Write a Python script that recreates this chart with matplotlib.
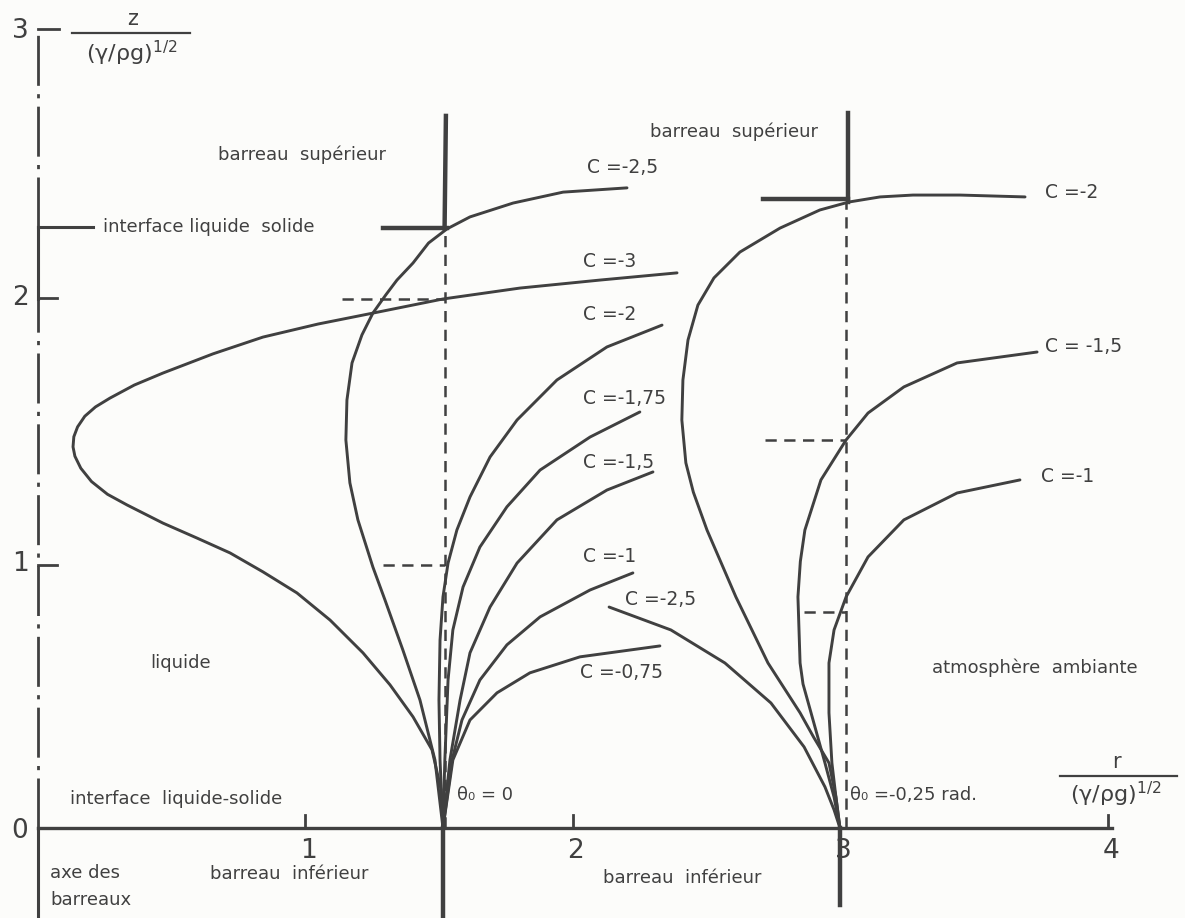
import matplotlib.pyplot as plt

# profils r(z), famille theta0 = 0 (pied en r = 1,514)
g_c3 = [(1.514, 0.000), (1.507, 0.143), (1.473, 0.293), (1.402, 0.417), (1.316, 0.537),
        (1.215, 0.657), (1.092, 0.780), (0.968, 0.882), (0.841, 0.961), (0.718, 1.032),
        (0.594, 1.088), (0.467, 1.144), (0.333, 1.212), (0.260, 1.252), (0.200, 1.300),
        (0.160, 1.350), (0.138, 1.395), (0.131, 1.430), (0.134, 1.468), (0.148, 1.505),
        (0.175, 1.545), (0.215, 1.580), (0.269, 1.613), (0.360, 1.662), (0.467, 1.707),
        (0.654, 1.779), (0.841, 1.842), (1.047, 1.891), (1.252, 1.932), (1.514, 1.985),
        (1.802, 2.026), (2.101, 2.056), (2.389, 2.083)]
g_c25 = [(1.514, 0.000), (1.484, 0.255), (1.428, 0.480), (1.364, 0.668), (1.297, 0.856),
         (1.252, 0.979), (1.196, 1.156), (1.166, 1.295), (1.151, 1.456), (1.155, 1.606),
         (1.174, 1.745), (1.211, 1.850), (1.252, 1.932), (1.300, 2.000), (1.342, 2.056),
         (1.402, 2.120), (1.460, 2.195), (1.529, 2.248), (1.615, 2.293), (1.776, 2.345),
         (1.963, 2.386), (2.202, 2.402)]
g_c2 = [(1.514, 0.000), (1.503, 0.255), (1.499, 0.480), (1.503, 0.705), (1.514, 0.867),
        (1.533, 0.994), (1.566, 1.118), (1.615, 1.242), (1.690, 1.392), (1.791, 1.531),
        (1.940, 1.681), (2.127, 1.805), (2.333, 1.887)]
g_c175 = [(1.514, 0.000), (1.521, 0.255), (1.533, 0.555), (1.551, 0.743), (1.589, 0.904),
          (1.652, 1.054), (1.753, 1.205), (1.877, 1.343), (2.064, 1.467), (2.250, 1.561)]
g_c15 = [(1.514, 0.000), (1.540, 0.255), (1.578, 0.480), (1.615, 0.657), (1.690, 0.829),
         (1.791, 0.994), (1.940, 1.156), (2.127, 1.268), (2.299, 1.336)]
g_c1 = [(1.514, 0.000), (1.548, 0.255), (1.585, 0.405), (1.652, 0.555), (1.753, 0.687),
        (1.877, 0.792), (2.064, 0.893), (2.224, 0.957)]
g_c075 = [(1.514, 0.000), (1.551, 0.255), (1.615, 0.405), (1.716, 0.507), (1.839, 0.582),
          (2.026, 0.642), (2.325, 0.683)]

# famille theta0 = -0,25 rad (pied en r = 3)
d_c2 = [(2.998, 0.000), (2.983, 0.116), (2.957, 0.244), (2.900, 0.340), (2.849, 0.432),
        (2.729, 0.619), (2.609, 0.867), (2.501, 1.118), (2.450, 1.260), (2.422, 1.370),
        (2.407, 1.531), (2.411, 1.681), (2.430, 1.831), (2.467, 1.962), (2.527, 2.064),
        (2.624, 2.161), (2.774, 2.251), (2.923, 2.319), (3.032, 2.349), (3.148, 2.368),
        (3.271, 2.375), (3.447, 2.375), (3.690, 2.368)]
d_c15 = [(2.998, 0.000), (2.976, 0.116), (2.942, 0.244), (2.890, 0.432), (2.860, 0.540),
         (2.849, 0.619), (2.841, 0.867), (2.850, 1.000), (2.867, 1.118), (2.927, 1.306),
         (3.021, 1.456), (3.103, 1.557), (3.237, 1.655), (3.436, 1.745), (3.735, 1.786)]
d_c1 = [(2.998, 0.000), (2.983, 0.116), (2.968, 0.244), (2.957, 0.432), (2.957, 0.619),
        (2.976, 0.743), (3.021, 0.867), (3.103, 1.017), (3.237, 1.156), (3.436, 1.257),
        (3.671, 1.306)]
d_c25 = [(2.135, 0.829), (2.366, 0.743), (2.568, 0.619), (2.740, 0.469), (2.864, 0.304),
         (2.942, 0.154), (2.976, 0.068), (2.998, 0.000)]

courbes = [g_c3, g_c25, g_c2, g_c175, g_c15, g_c1, g_c075, d_c2, d_c15, d_c1, d_c25]

# etiquettes des courbes (texte, r, z)
etiquettes = [("C =-2,5", 2.052, 2.477), ("C =-3", 2.037, 2.124), ("C =-2", 2.037, 1.925),
              ("C =-1,75", 2.037, 1.613), ("C =-1,5", 2.037, 1.373), ("C =-1", 2.037, 1.017),
              ("C =-2,5", 2.194, 0.856), ("C =-0,75", 2.026, 0.582),
              ("C =-2", 3.764, 2.383), ("C = -1,5", 3.764, 1.805), ("C =-1", 3.750, 1.317)]

xticks = [1, 2, 3, 4]
yticks = [0, 1, 2, 3]

encre = '#404040'
fig = plt.figure(figsize=(11.85, 9.18), dpi=100, facecolor='#fcfcfa')
ax = fig.add_axes([0, 0, 1, 1])
ax.set_xlim(-0.142, 4.288)
ax.set_ylim(-0.338, 3.107)
ax.axis('off')

for c in courbes:
    r, z = zip(*c)
    ax.plot(r, z, color=encre, lw=2.1, solid_capstyle='round', solid_joinstyle='round')

# axe des barreaux (trait mixte) et axe r
dashdot = (0, (18, 3, 1.5, 3))
ax.plot([0, 0], [0, 1.985], color=encre, lw=2.0, ls=dashdot)
ax.plot([0, 0], [2.255, 3.0], color=encre, lw=2.0, ls=dashdot)
ax.plot([0, 0], [1.985, 2.255], color=encre, lw=2.2)
ax.plot([0, 0], [-0.34, 0], color=encre, lw=2.2)
ax.plot([0, 0.08], [3.0, 3.0], color=encre, lw=2.0)
ax.plot([0, 0.206], [2.255, 2.255], color=encre, lw=2.2)
for t in [1, 2]:
    ax.plot([0, 0.07], [t - 0.013, t - 0.013], color=encre, lw=2.0)
ax.plot([0, 4.015], [0, 0], color=encre, lw=2.4)
for t in [1, 2, 4]:
    ax.plot([t, t], [0, 0.048], color=encre, lw=2.0)

# barreaux
ax.plot([1.52, 1.525], [2.25, 2.672], color=encre, lw=3.2)
ax.plot([1.29, 1.53], [2.25, 2.25], color=encre, lw=3.2)
ax.plot([1.514, 1.514], [-0.34, 0], color=encre, lw=3.2)
ax.plot([3.03, 3.03], [2.349, 2.683], color=encre, lw=3.2)
ax.plot([2.71, 3.03], [2.36, 2.36], color=encre, lw=3.2)
ax.plot([2.998, 2.998], [-0.29, 0], color=encre, lw=3.2)

# constructions en tirets
tirets = (0, (4.5, 3))
ax.plot([1.52, 1.52], [0, 2.25], color=encre, lw=1.8, ls=tirets)
ax.plot([1.136, 1.52], [1.985, 1.985], color=encre, lw=1.8, ls=tirets)
ax.plot([1.29, 1.52], [0.987, 0.987], color=encre, lw=1.8, ls=tirets)
ax.plot([3.02, 3.02], [0, 2.349], color=encre, lw=1.8, ls=tirets)
ax.plot([2.718, 3.02], [1.456, 1.456], color=encre, lw=1.8, ls=tirets)
ax.plot([2.864, 3.02], [0.81, 0.81], color=encre, lw=1.8, ls=tirets)

# graduations
for t in xticks:
    ax.text(t + 0.01, -0.088, str(t), fontsize=19, color=encre, ha='center', va='center')
for t in yticks:
    ax.text(-0.067, t - 0.01, str(t), fontsize=19, color=encre, ha='center', va='center')

# titres des axes
ax.text(0.352, 3.035, "z", fontsize=15, color=encre, ha='center', va='center')
ax.plot([0.127, 0.568], [2.982, 2.982], color=encre, lw=1.6)
ax.text(0.352, 2.905, "(γ/ρg)$^{1/2}$", fontsize=16, color=encre, ha='center', va='center')
ax.text(4.03, 0.248, "r", fontsize=15, color=encre, ha='center', va='center')
ax.plot([3.82, 4.258], [0.195, 0.195], color=encre, lw=1.6)
ax.text(4.03, 0.125, "(γ/ρg)$^{1/2}$", fontsize=16, color=encre, ha='center', va='center')

for txt, r, z in etiquettes:
    ax.text(r, z, txt, fontsize=13.5, color=encre, ha='left', va='center')

textes = [("barreau  supérieur", 0.673, 2.525), ("interface liquide  solide", 0.243, 2.255),
          ("barreau  supérieur", 2.288, 2.612), ("θ₀ = 0", 1.566, 0.124),
          ("θ₀ =-0,25 rad.", 3.036, 0.124), ("atmosphère  ambiante", 3.342, 0.600),
          ("liquide", 0.419, 0.619), ("interface  liquide-solide", 0.12, 0.109),
          ("axe des", 0.045, -0.169), ("barreaux", 0.045, -0.270),
          ("barreau  inférieur", 0.643, -0.172), ("barreau  inférieur", 2.112, -0.188)]
for txt, r, z in textes:
    ax.text(r, z, txt, fontsize=13, color=encre, ha='left', va='center')

plt.savefig('out.png', dpi=100, facecolor=fig.get_facecolor())
